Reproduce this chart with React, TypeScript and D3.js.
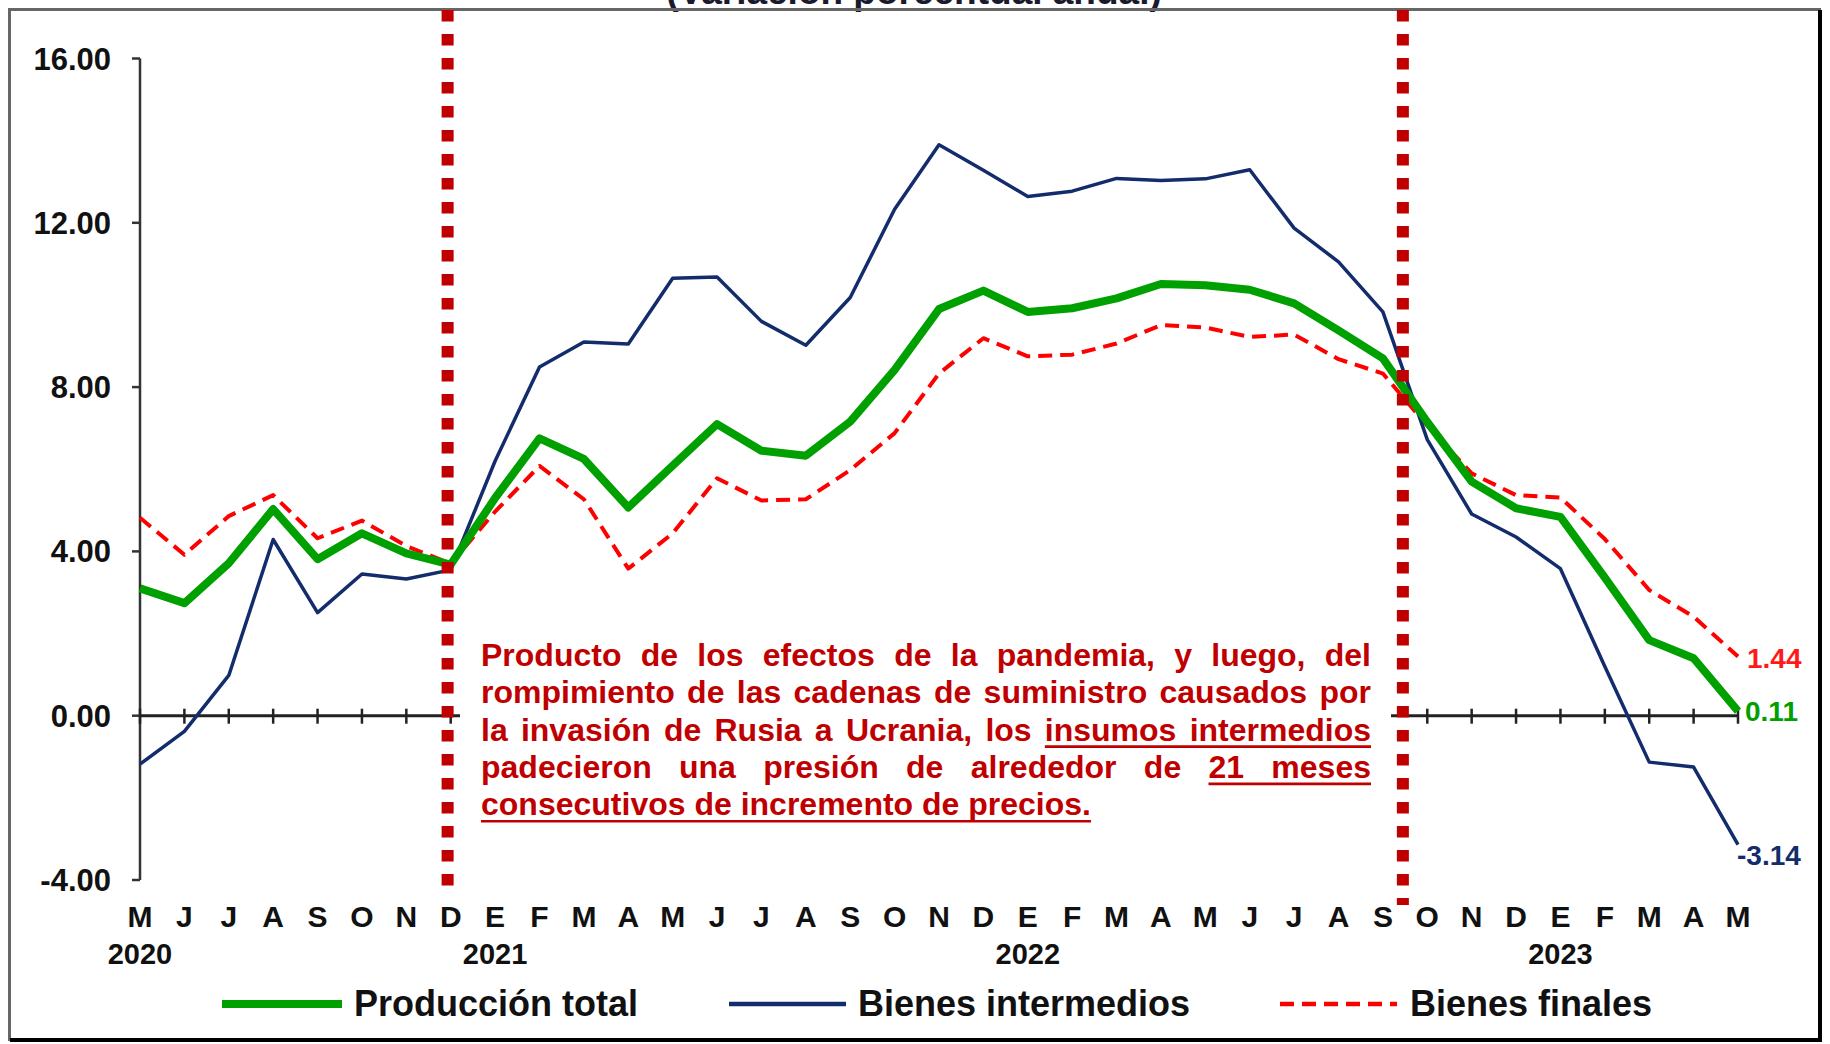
import React, { useMemo } from "react";
import * as d3 from "d3";

const months = ["M","J","J","A","S","O","N","D","E","F","M","A","M","J","J","A","S","O","N","D","E","F","M","A","M","J","J","A","S","O","N","D","E","F","M","A","M"];
const years = [
  { label: "2020", index: 0 },
  { label: "2021", index: 8 },
  { label: "2022", index: 20 },
  { label: "2023", index: 32 },
];
const produccionTotal = [3.10,2.74,3.71,5.03,3.81,4.44,3.95,3.68,5.30,6.75,6.25,5.07,6.09,7.10,6.45,6.33,7.16,8.42,9.90,10.35,9.83,9.92,10.16,10.51,10.48,10.37,10.04,9.38,8.70,7.15,5.70,5.05,4.84,3.36,1.84,1.40,0.11];
const bienesIntermedios = [-1.18,-0.38,0.98,4.29,2.51,3.45,3.33,3.55,6.20,8.49,9.10,9.05,10.65,10.68,9.60,9.02,10.18,12.33,13.90,13.28,12.64,12.77,13.08,13.03,13.07,13.29,11.87,11.05,9.83,6.72,4.91,4.35,3.58,1.20,-1.13,-1.25,-3.14];
const bienesFinales = [4.82,3.92,4.86,5.37,4.32,4.75,4.13,3.70,4.97,6.08,5.27,3.58,4.44,5.78,5.24,5.27,5.98,6.88,8.33,9.19,8.75,8.79,9.06,9.51,9.45,9.22,9.28,8.68,8.33,7.06,5.90,5.37,5.31,4.30,3.06,2.41,1.44];
const yTicks = [-4, 0, 4, 8, 12, 16];
const dividers = [6.93, 28.45];
const endLabels = ["1.44", "0.11", "-3.14"];
const title = "(Variación porcentual anual)";
const legendLabels = ["Producción total", "Bienes intermedios", "Bienes finales"];
const annotationLines = [
  { text: "Producto de los efectos de la pandemia, y luego, del", justify: true, underline: [] as number[][] },
  { text: "rompimiento de las cadenas de suministro causados por", justify: true, underline: [] as number[][] },
  { text: "la invasión de Rusia a Ucrania, los insumos intermedios", justify: true, underline: [[7, 8]] },
  { text: "padecieron una presión de alrededor de 21 meses", justify: true, underline: [[6, 7]] },
  { text: "consecutivos de incremento de precios.", justify: false, underline: [[0, 4]] },
];

const FONT = '"Liberation Sans", Arial, Helvetica, sans-serif';
const GREEN = "#00A000";
const NAVY = "#132C6B";
const RED = "#FF0000";
const DARKRED = "#C00000";

export default function App() {
  const W = 1830, H = 1044;
  const x = d3.scaleLinear().domain([0, 36]).range([140, 1738]);
  const y = d3.scaleLinear().domain([-4, 16]).range([880, 58.5]);
  const line = d3.line<number>().x((_, i) => x(i)).y((d) => y(d));
  const fmt = (v: number) => d3.format(".2f")(v).replace("\u2212", "-");

  const annoSize = 32;
  const annoLeft = 481, annoRight = 1371, annoTop = 666, annoStep = 37.3;

  const anno = useMemo(() => {
    const canvas = document.createElement("canvas");
    const ctx = canvas.getContext("2d")!;
    ctx.font = `bold ${annoSize}px ${FONT}`;
    const spaceW = ctx.measureText(" ").width;
    return annotationLines.map((ln) => {
      const words = ln.text.split(" ");
      const widths = words.map((w) => ctx.measureText(w).width);
      const total = widths.reduce((a, b) => a + b, 0);
      const gap = ln.justify ? (annoRight - annoLeft - total) / (words.length - 1) : spaceW;
      let cx = annoLeft;
      const pos = words.map((w, i) => {
        const p = { word: w, x: cx, w: widths[i] };
        cx += widths[i] + gap;
        return p;
      });
      const unders = ln.underline.map(([a, b]) => [pos[a].x, pos[b].x + pos[b].w]);
      return { pos, unders };
    });
  }, []);

  const series = [
    { data: bienesFinales, color: RED, width: 4, dash: "14 8" },
    { data: bienesIntermedios, color: NAVY, width: 3.5, dash: undefined },
    { data: produccionTotal, color: GREEN, width: 8, dash: undefined },
  ];

  const legend = [
    { label: legendLabels[0], color: GREEN, width: 8, dash: undefined, x1: 222, x2: 342, tx: 354 },
    { label: legendLabels[1], color: NAVY, width: 4.5, dash: undefined, x1: 729, x2: 846, tx: 858 },
    { label: legendLabels[2], color: RED, width: 4.5, dash: "14 8", x1: 1280, x2: 1397, tx: 1410 },
  ];

  const last = 36;
  const ends = [
    { text: endLabels[0], v: bienesFinales[last], color: "#FF1A1A", dx: 9, dy: 11 },
    { text: endLabels[1], v: produccionTotal[last], color: "#00A000", dx: 7, dy: 10 },
    { text: endLabels[2], v: bienesIntermedios[last], color: NAVY, dx: -1, dy: 20 },
  ];

  return (
    <svg
      width={W}
      height={H}
      viewBox={`0 0 ${W} ${H}`}
      style={{ position: "absolute", left: 0, top: 0, background: "#fff" }}
      fontFamily={FONT}
    >
      <rect x={0} y={0} width={W} height={H} fill="#fff" />
      {/* title, mostly cut off as in the source */}
      <text x={914} y={4} textAnchor="middle" fontSize={37} fontWeight="bold" fill="#1a1a2e">
        {title}
      </text>
      {/* frame */}
      <rect x={9.5} y={9.5} width={1810} height={1030} fill="none" stroke="#666" strokeWidth={3} />
      <line x1={1820} y1={10} x2={1820} y2={1041} stroke="#000" strokeWidth={4} />
      <line x1={10} y1={1040} x2={1822} y2={1040} stroke="#000" strokeWidth={4} />

      {/* y axis */}
      <line x1={x(0)} y1={y(16)} x2={x(0)} y2={y(-4)} stroke="#333" strokeWidth={2.5} />
      {yTicks.map((t) => (
        <g key={t}>
          <line x1={x(0) - 8} x2={x(0)} y1={y(t)} y2={y(t)} stroke="#333" strokeWidth={2.5} />
          <text x={111} y={y(t) + 11} textAnchor="end" fontSize={31} fontWeight="bold" fill="#111">
            {fmt(t)}
          </text>
        </g>
      ))}

      {/* zero axis with month ticks */}
      <line x1={x(0)} x2={x(36)} y1={y(0)} y2={y(0)} stroke="#222" strokeWidth={3} />
      {months.map((_, i) => (
        <line key={i} x1={x(i)} x2={x(i)} y1={y(0) - 7} y2={y(0) + 8} stroke="#222" strokeWidth={2.5} />
      ))}

      {/* series */}
      {series.map((s, k) => (
        <path
          key={k}
          d={line(s.data) || ""}
          fill="none"
          stroke={s.color}
          strokeWidth={s.width}
          strokeDasharray={s.dash}
          strokeLinejoin="round"
        />
      ))}

      {/* annotation box */}
      <rect x={460} y={622} width={931} height={212} fill="#fff" />
      {anno.map((ln, li) => (
        <g key={li}>
          <text y={annoTop + li * annoStep} fontSize={annoSize} fontWeight="bold" fill={DARKRED}>
            {ln.pos.map((p, pi) => (
              <tspan key={pi} x={p.x}>{p.word}</tspan>
            ))}
          </text>
          {ln.unders.map(([a, b], ui) => (
            <line key={ui} x1={a} x2={b} y1={annoTop + li * annoStep + 6} y2={annoTop + li * annoStep + 6} stroke={DARKRED} strokeWidth={2.6} />
          ))}
        </g>
      ))}

      {/* dotted dividers */}
      {dividers.map((d, i) => (
        <line key={i} x1={x(d)} x2={x(d)} y1={10} y2={i === 0 ? 890 : 905} stroke={DARKRED} strokeWidth={12} strokeDasharray="11.5 12.5" />
      ))}

      {/* month labels */}
      {months.map((m, i) => (
        <text key={i} x={x(i)} y={927} textAnchor="middle" fontSize={30} fontWeight="bold" fill="#111">
          {m}
        </text>
      ))}
      {years.map((yr) => (
        <text key={yr.label} x={x(yr.index)} y={964} textAnchor="middle" fontSize={29} fontWeight="bold" fill="#111">
          {yr.label}
        </text>
      ))}

      {/* end labels */}
      {ends.map((e, i) => (
        <text key={i} x={x(last) + e.dx} y={y(e.v) + e.dy} fontSize={28} fontWeight="bold" fill={e.color}>
          {e.text}
        </text>
      ))}

      {/* legend */}
      {legend.map((l, i) => (
        <g key={i}>
          <line x1={l.x1} x2={l.x2} y1={1004} y2={1004} stroke={l.color} strokeWidth={l.width} strokeDasharray={l.dash} />
          <text x={l.tx} y={1016} fontSize={36} fontWeight="bold" fill="#111">
            {l.label}
          </text>
        </g>
      ))}
    </svg>
  );
}
